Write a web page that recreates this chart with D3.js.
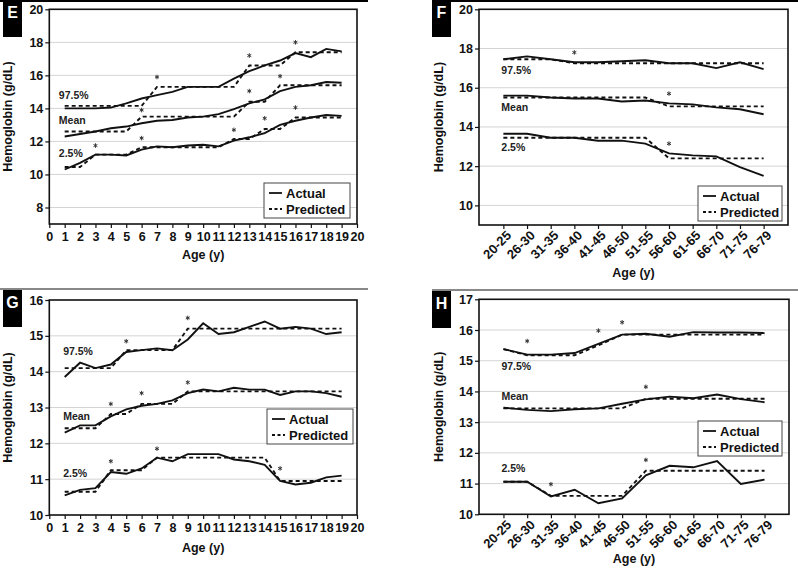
<!DOCTYPE html>
<html><head><meta charset="utf-8">
<script src="https://cdn.jsdelivr.net/npm/d3@7"></script>
<style>
body{margin:0;background:#fff;}
svg{display:block;font-family:"Liberation Sans",Arial,Helvetica,sans-serif;}
</style></head><body>
<svg id="c" width="798" height="570"></svg>
<script>
// ---------- categories / ticks ----------
const childAges = [1,2,3,4,5,6,7,8,9,10,11,12,13,14,15,16,17,18,19];
const childTicks = [0,1,2,3,4,5,6,7,8,9,10,11,12,13,14,15,16,17,18,19,20];
const adultGroups = ["20-25","26-30","31-35","36-40","41-45","46-50","51-55","56-60","61-65","66-70","71-75","76-79"];
const eYTicks = [8,10,12,14,16,18,20];
const fYTicks = [10,12,14,16,18,20];
const gYTicks = [10,11,12,13,14,15,16];
const hYTicks = [10,11,12,13,14,15,16,17];
const legendLabels = ["Actual","Predicted"];
const curveLabels = ["97.5%","Mean","2.5%"];

// ---------- panel E (children) ----------
const eActual975 = [14.0,14.0,14.0,14.05,14.3,14.6,14.8,15.0,15.3,15.3,15.3,15.8,16.25,16.6,16.9,17.35,17.1,17.6,17.45];
const ePred975   = [14.15,14.15,14.15,14.15,14.15,14.15,15.3,15.3,15.3,15.3,15.3,15.3,16.6,16.6,16.6,17.4,17.4,17.4,17.4];
const eActualMean= [12.3,12.45,12.6,12.8,12.9,13.1,13.25,13.3,13.45,13.5,13.65,13.95,14.3,14.55,15.05,15.3,15.4,15.6,15.55];
const ePredMean  = [12.6,12.6,12.6,12.6,12.6,13.5,13.5,13.5,13.5,13.5,13.5,13.5,14.4,14.4,15.4,15.4,15.4,15.4,15.4];
const eActual25  = [10.3,10.7,11.2,11.2,11.15,11.5,11.7,11.65,11.75,11.8,11.7,12.05,12.25,12.5,13.0,13.25,13.45,13.6,13.55];
const ePred25    = [10.45,10.45,11.2,11.2,11.2,11.65,11.65,11.65,11.65,11.65,11.65,12.15,12.15,12.75,12.75,13.45,13.45,13.45,13.45];
const eStarX = [7,13,16,6,13,15,3,6,12,14,16];
const eStarY = [15.9,17.2,18.0,13.9,15.05,15.95,11.75,12.2,12.7,13.4,14.05];

// ---------- panel F (adults) ----------
const fActual975 = [17.45,17.6,17.45,17.3,17.3,17.35,17.4,17.25,17.25,17.0,17.3,16.95];
const fPred975   = [17.45,17.45,17.45,17.25,17.25,17.25,17.25,17.25,17.25,17.25,17.25,17.25];
const fActualMean= [15.6,15.6,15.5,15.45,15.45,15.3,15.35,15.2,15.15,15.0,14.9,14.65];
const fPredMean  = [15.5,15.5,15.5,15.5,15.5,15.5,15.5,15.05,15.05,15.05,15.05,15.05];
const fActual25  = [13.65,13.65,13.45,13.45,13.3,13.3,13.15,12.65,12.55,12.5,11.95,11.5];
const fPred25    = [13.45,13.45,13.45,13.45,13.45,13.45,13.45,12.4,12.4,12.4,12.4,12.4];
const fStarX = ["36-40","56-60","56-60"];
const fStarY = [17.8,15.7,13.15];

// ---------- panel G (children) ----------
const gActual975 = [13.85,14.25,14.1,14.2,14.55,14.6,14.65,14.6,14.9,15.35,15.05,15.1,15.25,15.4,15.2,15.25,15.2,15.05,15.1];
const gPred975   = [14.1,14.1,14.1,14.1,14.6,14.6,14.6,14.6,15.2,15.2,15.2,15.2,15.2,15.2,15.2,15.2,15.2,15.2,15.2];
const gActualMean= [12.3,12.5,12.5,12.75,12.95,13.05,13.1,13.2,13.4,13.5,13.45,13.55,13.5,13.5,13.35,13.45,13.45,13.4,13.3];
const gPredMean  = [12.42,12.42,12.42,12.82,12.82,13.1,13.1,13.1,13.45,13.45,13.45,13.45,13.45,13.45,13.45,13.45,13.45,13.45,13.45];
const gActual25  = [10.55,10.7,10.75,11.2,11.15,11.3,11.6,11.5,11.7,11.7,11.7,11.55,11.5,11.4,10.95,10.85,10.9,11.05,11.1];
const gPred25    = [10.65,10.65,10.65,11.25,11.25,11.25,11.6,11.6,11.6,11.6,11.6,11.6,11.6,11.6,10.95,10.95,10.95,10.95,10.95];
const gStarX = [5,9,4,6,9,4,7,15];
const gStarY = [14.85,15.5,13.1,13.4,13.7,11.5,11.85,11.3];

// ---------- panel H (adults) ----------
const hActual975 = [15.38,15.2,15.2,15.25,15.55,15.85,15.88,15.78,15.93,15.92,15.92,15.9];
const hPred975   = [15.38,15.18,15.18,15.18,15.5,15.85,15.85,15.85,15.85,15.85,15.85,15.85];
const hActualMean= [13.47,13.4,13.36,13.42,13.45,13.6,13.74,13.83,13.78,13.9,13.75,13.65];
const hPredMean  = [13.45,13.45,13.45,13.45,13.45,13.45,13.76,13.76,13.76,13.76,13.76,13.76];
const hActual25  = [11.06,11.06,10.58,10.8,10.36,10.52,11.27,11.58,11.53,11.73,10.99,11.13];
const hPred25    = [11.06,11.06,10.6,10.6,10.6,10.6,11.42,11.42,11.42,11.42,11.42,11.42];
const hStarX = ["26-30","41-45","46-50","51-55","31-35","51-55"];
const hStarY = [15.64,15.98,16.25,14.15,10.98,11.77];

const svg = d3.select("#c");
const INK = "#111";
const starPath = d3.symbol(d3.symbolAsterisk, 14)();

function drawPanel(o) {
  const g = svg.append("g");
  // header line and letter box
  g.append("line").attr("x1", o.head.x1).attr("x2", o.head.x2)
    .attr("y1", o.head.y).attr("y2", o.head.y)
    .attr("stroke", o.head.color).attr("stroke-width", 2);
  g.append("rect").attr("x", o.box.x).attr("y", o.box.y).attr("width", 19).attr("height", 37).attr("fill", "#000");
  g.append("text").attr("x", o.box.x + 9.5).attr("y", o.box.y + 18).attr("text-anchor", "middle")
    .attr("fill", "#fff").attr("font-weight", "bold").attr("font-size", 16).text(o.letter);

  const p = o.plot;
  let x;
  if (o.cat) {
    x = d3.scalePoint().domain(o.cats).range([p.l, p.r]).padding(1.03);
  } else {
    x = d3.scaleLinear().domain([0, 20]).range([p.l, p.r]);
  }
  const y = d3.scaleLinear().domain(o.yDomain).range([p.b, p.t]);

  // gridlines
  g.append("g").selectAll("line").data(o.yTicks.filter(v => v > o.yDomain[0] && v < o.yDomain[1]))
    .join("line").attr("x1", p.l).attr("x2", p.r).attr("y1", d => y(d)).attr("y2", d => y(d))
    .attr("stroke", "#d4d4d4").attr("stroke-width", 1);

  // axes
  const yAx = g.append("g").attr("transform", `translate(${p.l},0)`)
    .call(d3.axisLeft(y).tickValues(o.yTicks).tickSize(4).tickPadding(2).tickFormat(d3.format("d")));
  const xAxis = o.cat ? d3.axisBottom(x).tickSize(4) : d3.axisBottom(x).tickValues(o.xTicks).tickSize(4).tickPadding(4).tickFormat(d3.format("d"));
  const xAx = g.append("g").attr("transform", `translate(0,${p.b})`).call(xAxis);
  [yAx, xAx].forEach(a => {
    a.select(".domain").remove();
    a.selectAll(".tick line").attr("stroke", INK).attr("stroke-width", 1.2);
    a.selectAll(".tick text").attr("font-family", null).attr("font-size", 12.5)
      .attr("font-weight", "bold").attr("fill", INK);
  });
  if (o.cat) {
    xAx.selectAll(".tick text").attr("text-anchor", "end").attr("x", 0).attr("y", 0)
      .attr("font-size", 13)
      .attr("dy", "0.35em").attr("transform", "translate(5,8) rotate(-45)");
  }

  // frame
  g.append("rect").attr("x", p.l).attr("y", p.t).attr("width", p.r - p.l).attr("height", p.b - p.t)
    .attr("fill", "none").attr("stroke", INK).attr("stroke-width", 1.6);

  const cats = o.cat ? o.cats : childAges;
  const line = d3.line().x((d, i) => x(cats[i])).y(d => y(d));
  o.series.forEach(s => {
    g.append("path").datum(s.pred).attr("d", line).attr("fill", "none")
      .attr("stroke", INK).attr("stroke-width", 1.9).attr("stroke-dasharray", "4,3");
    g.append("path").datum(s.actual).attr("d", line).attr("fill", "none")
      .attr("stroke", INK).attr("stroke-width", 1.9);
  });

  // asterisks
  g.append("g").selectAll("path").data(o.starX).join("path")
    .attr("d", starPath)
    .attr("transform", (d, i) => `translate(${x(d)},${y(o.starY[i])})`)
    .attr("fill", "none").attr("stroke", "#333").attr("stroke-width", 1);

  // curve labels
  o.labels.forEach((lv, i) => {
    g.append("text").attr("x", o.labelX(x)).attr("y", y(lv))
      .attr("font-size", 10.5).attr("font-weight", "bold").attr("fill", "#222").text(curveLabels[i]);
  });

  // axis titles
  g.append("text").attr("x", (p.l + p.r) / 2).attr("y", o.xTitleY).attr("text-anchor", "middle")
    .attr("font-size", 12.5).attr("font-weight", "bold").attr("fill", INK).text("Age (y)");
  g.append("text").attr("transform", `translate(${o.yTitleX},${(p.t + p.b) / 2}) rotate(-90)`)
    .attr("text-anchor", "middle").attr("font-size", 12.5).attr("font-weight", "bold").attr("fill", INK)
    .text("Hemoglobin (g/dL)");

  // legend
  const L = o.legend;
  const lg = g.append("g").attr("transform", `translate(${L.x},${L.y})`);
  lg.append("rect").attr("width", L.w).attr("height", 35).attr("fill", "#fff").attr("stroke", "#444").attr("stroke-width", 1);
  legendLabels.forEach((t, i) => {
    const yy = 10 + i * 16;
    lg.append("line").attr("x1", 5).attr("x2", 18).attr("y1", yy).attr("y2", yy)
      .attr("stroke", INK).attr("stroke-width", 1.8).attr("stroke-dasharray", i ? "3,2.5" : null);
    lg.append("text").attr("x", 22).attr("y", yy + 5).attr("font-size", 13).attr("font-weight", "bold")
      .attr("fill", INK).text(t);
  });
}

drawPanel({
  letter: "E", box: {x: 3, y: 0}, head: {x1: 0, x2: 368, y: 1, color: "#000"},
  plot: {l: 49.3, r: 357, t: 9.3, b: 224}, cat: false, xTicks: childTicks,
  yDomain: [7, 20], yTicks: eYTicks,
  series: [{actual: eActual975, pred: ePred975}, {actual: eActualMean, pred: ePredMean}, {actual: eActual25, pred: ePred25}],
  starX: eStarX, starY: eStarY,
  labels: [14.55, 13.05, 11.05], labelX: x => x(0.62),
  xTitleY: 259, yTitleX: 12, legend: {x: 264, y: 183, w: 86}
});
drawPanel({
  letter: "F", box: {x: 432, y: 0}, head: {x1: 432, x2: 798, y: 1, color: "#000"},
  plot: {l: 479, r: 788, t: 9.3, b: 225}, cat: true, cats: adultGroups,
  yDomain: [9, 20], yTicks: fYTicks,
  series: [{actual: fActual975, pred: fPred975}, {actual: fActualMean, pred: fPredMean}, {actual: fActual25, pred: fPred25}],
  starX: fStarX, starY: fStarY,
  labels: [16.7, 14.82, 12.75], labelX: x => x(adultGroups[0]) - 2,
  xTitleY: 277, yTitleX: 443, legend: {x: 698, y: 186, w: 84}
});
drawPanel({
  letter: "G", box: {x: 3, y: 290}, head: {x1: 0, x2: 368, y: 289, color: "#888"},
  plot: {l: 49.3, r: 357, t: 300, b: 515}, cat: false, xTicks: childTicks,
  yDomain: [10, 16], yTicks: gYTicks,
  series: [{actual: gActual975, pred: gPred975}, {actual: gActualMean, pred: gPredMean}, {actual: gActual25, pred: gPred25}],
  starX: gStarX, starY: gStarY,
  labels: [14.47, 12.65, 11.07], labelX: x => x(0.9),
  xTitleY: 552, yTitleX: 12, legend: {x: 267, y: 409, w: 86}
});
drawPanel({
  letter: "H", box: {x: 432, y: 291}, head: {x1: 432, x2: 798, y: 290, color: "#888"},
  plot: {l: 479, r: 789, t: 299.3, b: 514.3}, cat: true, cats: adultGroups,
  yDomain: [10, 17], yTicks: hYTicks,
  series: [{actual: hActual975, pred: hPred975}, {actual: hActualMean, pred: hPredMean}, {actual: hActual25, pred: hPred25}],
  starX: hStarX, starY: hStarY,
  labels: [14.7, 13.72, 11.37], labelX: x => x(adultGroups[0]) - 2,
  xTitleY: 563, yTitleX: 443, legend: {x: 698, y: 421, w: 84}
});
</script>
</body></html>
